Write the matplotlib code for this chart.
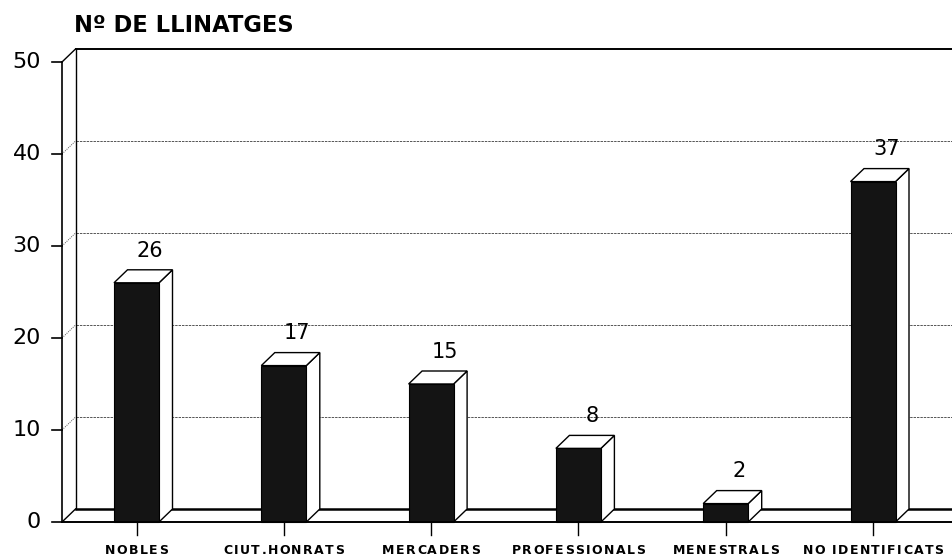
import matplotlib
matplotlib.use("Agg")
import matplotlib.pyplot as plt
from matplotlib.patches import Polygon
from matplotlib.font_manager import FontProperties

# ---- data ----
categories = ["NOBLES", "CIUT.HONRATS", "MERCADERS", "PROFESSIONALS", "MENESTRALS", "NO IDENTIFICATS"]
values = [26, 17, 15, 8, 2, 37]
yticks = [0, 10, 20, 30, 40, 50]
title = "Nº DE LLINATGES"

# ---- geometry (data units: x = category index, y = value) ----
W, H = 952, 557
px_per_cat = 147.3
c0_px = 136.5
px_per_unit = 9.2
zero_px = 522.0

def xpx(p):  # pixel x -> data x
    return (p - c0_px) / px_per_cat

dx = 13.5 / px_per_cat   # depth offset in x
dy = 13.0 / px_per_unit  # depth offset in y
bw = 45.0 / px_per_cat   # bar width
ymax = 50

fig = plt.figure(figsize=(W / 100, H / 100), dpi=100)
ax = fig.add_axes([0, 0, 1, 1])
ax.set_xlim(xpx(0), xpx(W))
ax.set_ylim((zero_px - H) / px_per_unit, zero_px / px_per_unit)
ax.set_axis_off()
renderer = fig.canvas.get_renderer()

xf = xpx(62)          # front axis x
xb = xf + dx          # back wall x
xr = xpx(W + 5)       # right edge

# back wall gridlines
for t in yticks[1:-1]:
    ax.plot([xb, xr], [t + dy, t + dy], color="#555555", lw=0.7,
            linestyle=(0, (2.5, 1)), zorder=1)
    ax.plot([xf, xb], [t, t + dy], color="#555555", lw=0.7,
            linestyle=(0, (1, 1.2)), zorder=1)
# top line of back wall
ax.plot([xb, xr], [ymax + dy, ymax + dy], color="black", lw=1.4, zorder=1)
ax.plot([xf, xb], [ymax, ymax + dy], color="black", lw=1.0, zorder=1)
# back wall left vertical
ax.plot([xb, xb], [dy, ymax + dy], color="black", lw=1.0, zorder=1)
# floor
ax.plot([xb, xr], [dy, dy], color="black", lw=1.8, zorder=1)
ax.plot([xf, xb], [0, dy], color="black", lw=1.0, zorder=1)
ax.plot([xf, xr], [0, 0], color="black", lw=1.4, zorder=5)
# front axis
ax.plot([xf, xf], [0, ymax], color="black", lw=1.2, zorder=5)
for t in yticks:
    ax.plot([xpx(52), xf], [t, t], color="black", lw=1.2, zorder=5)
    ax.text(xpx(41), t, str(t), ha="right", va="center", fontsize=16,
            family="DejaVu Sans", color="black")

# letter-spaced label helper
lab_fp = FontProperties(family="DejaVu Sans", weight="bold", size=9)
tracking_px = 1.4

def spaced_text(xc, y, s):
    widths = [renderer.get_text_width_height_descent(ch, lab_fp, ismath=False)[0]
              for ch in s]
    total = sum(widths) + tracking_px * (len(s) - 1)
    xc_px = c0_px + xc * px_per_cat
    pos = xc_px - total / 2
    for ch, w in zip(s, widths):
        ax.text(xpx(pos), y, ch, ha="left", va="center", fontproperties=lab_fp,
                color="black")
        pos += w + tracking_px

# bars
for i, (cat, v) in enumerate(zip(categories, values)):
    l, r = i - bw / 2, i + bw / 2
    side = Polygon([(r, 0), (r + dx, dy), (r + dx, v + dy), (r, v)],
                   closed=True, facecolor="white", edgecolor="black", lw=1.0, zorder=3)
    top = Polygon([(l, v), (r, v), (r + dx, v + dy), (l + dx, v + dy)],
                  closed=True, facecolor="white", edgecolor="black", lw=1.0, zorder=3)
    front = Polygon([(l, 0), (r, 0), (r, v), (l, v)], closed=True,
                    facecolor="#141414", edgecolor="black", lw=0.8, zorder=4)
    for p in (side, top, front):
        ax.add_patch(p)
    ax.text(i + dx, v + 3.5, str(v), ha="center", va="center", fontsize=15,
            family="DejaVu Sans", color="black", zorder=6)
    # category tick and label
    ax.plot([i, i], [0, -1.4], color="black", lw=1.0, zorder=5)
    spaced_text(i, -3.1, cat)

# title
ax.text(xpx(74), (zero_px - 25.5) / px_per_unit, title, ha="left", va="center",
        fontsize=16.3, fontweight="bold", family="DejaVu Sans", color="black")

fig.savefig("out.png", dpi=100, facecolor="white")
